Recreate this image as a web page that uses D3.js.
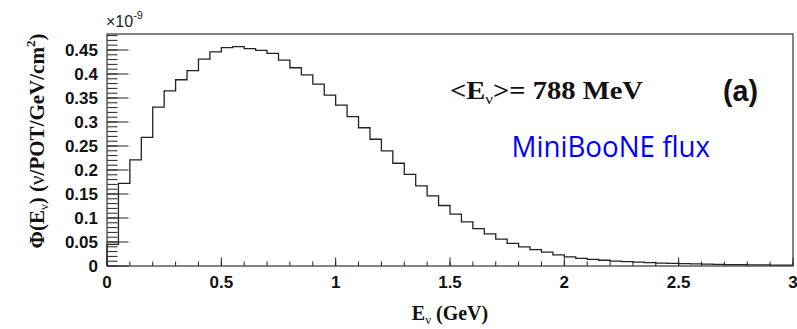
<!DOCTYPE html>
<meta charset="utf-8">

<style type="text/css">
    body { margin: 0; background: #fff; }

    /* histogram outline */
    .hist {
        fill: none;
        stroke: #222;
        stroke-width: 1.3;
    }

    .frame {
        fill: none;
        stroke: #333;
        stroke-width: 1.2;
    }

    .tick line { stroke: #222; stroke-width: 1; }

    .ticklabel {
        font-family: "Liberation Sans", Arial, sans-serif;
        font-weight: bold;
        font-size: 17px;
        fill: #111;
    }

    .title {
        font-family: "Liberation Serif", "Times New Roman", serif;
        font-weight: bold;
        fill: #111;
    }
</style>
<body>
</body>

<script src="https://cdn.jsdelivr.net/npm/d3@7/dist/d3.min.js"></script>
<script>

    // bin lower edges (GeV), width 0.05
    var binWidth = 0.05;
    var binEdges = d3.range(60).map(function(i) { return +(i * binWidth).toFixed(2); });

    // flux per bin, in units of 1e-9 nu/POT/GeV/cm^2
    var fluxValues = [
        0.045, 0.172, 0.221, 0.268, 0.331, 0.365, 0.388, 0.407, 0.431, 0.446,
        0.455, 0.457, 0.453, 0.449, 0.443, 0.429, 0.413, 0.398, 0.379, 0.356,
        0.335, 0.311, 0.288, 0.264, 0.240, 0.214, 0.191, 0.167, 0.146, 0.126,
        0.108, 0.092, 0.078, 0.067, 0.056, 0.047, 0.040, 0.034, 0.029, 0.023,
        0.019, 0.016, 0.014, 0.012, 0.010, 0.009, 0.008, 0.007, 0.006, 0.0055,
        0.005, 0.0045, 0.004, 0.0035, 0.003, 0.003, 0.0025, 0.0025, 0.002, 0.002
    ];

    // axis ticks
    var xTicks = [0, 0.5, 1, 1.5, 2, 2.5, 3];
    var xTickLabels = ["0", "0.5", "1", "1.5", "2", "2.5", "3"];
    var yTicks = [0, 0.05, 0.1, 0.15, 0.2, 0.25, 0.3, 0.35, 0.4, 0.45];
    var yTickLabels = ["0", "0.05", "0.1", "0.15", "0.2", "0.25", "0.3", "0.35", "0.4", "0.45"];

    var width = 797, height = 329;
    var margin = {top: 34, right: 4, bottom: 63, left: 107};

    var xScale = d3.scaleLinear()
        .domain([0, 3])
        .range([margin.left, width - margin.right]);

    var yScale = d3.scaleLinear()
        .domain([0, 0.4833])
        .range([height - margin.bottom, margin.top]);

    var svg = d3.select("body").append("svg")
        .attr("width", width)
        .attr("height", height);

    var x0 = xScale(0), x1 = xScale(3), y0 = yScale(0), y1 = yScale(0.4833);

    // minor ticks first so the major ones sit on top
    var xMinor = d3.range(0, 3.0001, 0.1);
    svg.append("g").attr("class", "tick").selectAll("line")
        .data(xMinor)
        .enter().append("line")
        .attr("x1", function(d) { return xScale(d); })
        .attr("x2", function(d) { return xScale(d); })
        .attr("y1", y0)
        .attr("y2", y0 - 4.5);

    svg.append("g").attr("class", "tick").selectAll("line")
        .data(xTicks)
        .enter().append("line")
        .attr("x1", function(d) { return xScale(d); })
        .attr("x2", function(d) { return xScale(d); })
        .attr("y1", y0)
        .attr("y2", y0 - 8.5);

    var yMinor = d3.range(0, 0.4801, 0.01);
    svg.append("g").attr("class", "tick").selectAll("line")
        .data(yMinor)
        .enter().append("line")
        .attr("x1", x0)
        .attr("x2", x0 + 10.5)
        .attr("y1", function(d) { return yScale(d); })
        .attr("y2", function(d) { return yScale(d); });

    svg.append("g").attr("class", "tick").selectAll("line")
        .data(yTicks)
        .enter().append("line")
        .attr("x1", x0)
        .attr("x2", x0 + 21.5)
        .attr("y1", function(d) { return yScale(d); })
        .attr("y2", function(d) { return yScale(d); });

    // tick labels
    svg.selectAll(".xlab")
        .data(xTicks)
        .enter().append("text")
        .attr("class", "ticklabel")
        .attr("x", function(d) { return xScale(d); })
        .attr("y", y0 + 21.5)
        .attr("text-anchor", "middle")
        .text(function(d, i) { return xTickLabels[i]; });

    svg.selectAll(".ylab")
        .data(yTicks)
        .enter().append("text")
        .attr("class", "ticklabel")
        .attr("x", 98)
        .attr("y", function(d) { return yScale(d) + 6; })
        .attr("text-anchor", "end")
        .text(function(d, i) { return yTickLabels[i]; });

    // histogram as a step line
    var histPoints = [{x: 0, y: 0}].concat(binEdges.map(function(e, i) {
        return {x: e, y: fluxValues[i]};
    }));
    histPoints.push({x: 3, y: fluxValues[fluxValues.length - 1]});

    var line = d3.line()
        .x(function(d) { return xScale(d.x); })
        .y(function(d) { return yScale(d.y); })
        .curve(d3.curveStepAfter);

    svg.append("path")
        .datum(histPoints)
        .attr("class", "hist")
        .attr("d", line);

    // frame
    svg.append("rect")
        .attr("class", "frame")
        .attr("x", x0)
        .attr("y", y1)
        .attr("width", x1 - x0)
        .attr("height", y0 - y1);

    // exponent
    var expo = svg.append("text")
        .attr("x", 106)
        .attr("y", 26.5)
        .style("font-family", "'Liberation Sans', Arial, sans-serif")
        .style("font-size", "16px")
        .style("fill", "#222");
    expo.append("tspan").text("\u00d710");
    expo.append("tspan").attr("dy", -8).style("font-size", "11px").text("-9");

    // axis titles
    var xt = svg.append("text")
        .attr("class", "title")
        .attr("x", 450)
        .attr("y", 319.5)
        .attr("text-anchor", "middle")
        .style("font-size", "20px");
    xt.append("tspan").text("E");
    xt.append("tspan").attr("dy", 4).style("font-size", "13px").style("font-weight", "normal").text("\u03bd");
    xt.append("tspan").attr("dy", -4).text(" (GeV)");

    var yt = svg.append("text")
        .attr("class", "title")
        .attr("transform", "translate(44,141) rotate(-90)")
        .attr("text-anchor", "middle")
        .style("font-size", "21px");
    yt.append("tspan").text("\u03a6(E");
    yt.append("tspan").attr("dy", 4).style("font-size", "13px").style("font-weight", "normal").text("\u03bd");
    yt.append("tspan").attr("dy", -4).text(") (");
    yt.append("tspan").style("font-weight", "normal").text("\u03bd");
    yt.append("tspan").text("/POT/GeV/cm");
    yt.append("tspan").attr("dy", -9).style("font-size", "13px").text("2");
    yt.append("tspan").attr("dy", 9).text(")");

    // annotations
    var mean = svg.append("text")
        .attr("class", "title")
        .attr("x", 450)
        .attr("y", 98.5)
        .attr("textLength", 193)
        .attr("lengthAdjust", "spacingAndGlyphs")
        .style("font-size", "25px");
    mean.append("tspan").text("<E");
    mean.append("tspan").attr("dy", 5).style("font-size", "15px").style("font-weight", "normal").text("\u03bd");
    mean.append("tspan").attr("dy", -5).text(">= 788 MeV");

    svg.append("text")
        .attr("x", 723)
        .attr("y", 100.5)
        .attr("textLength", 35)
        .attr("lengthAdjust", "spacingAndGlyphs")
        .style("font-family", "'Liberation Sans', Arial, sans-serif")
        .style("font-weight", "bold")
        .style("font-size", "30px")
        .style("fill", "#111")
        .text("(a)");

    svg.append("text")
        .attr("x", 511.5)
        .attr("y", 156.5)
        .attr("textLength", 198.5)
        .attr("lengthAdjust", "spacingAndGlyphs")
        .style("font-family", "'Open Sans', sans-serif")
        .style("font-size", "30px")
        .style("fill", "#0000ff")
        .text("MiniBooNE flux");

</script>
